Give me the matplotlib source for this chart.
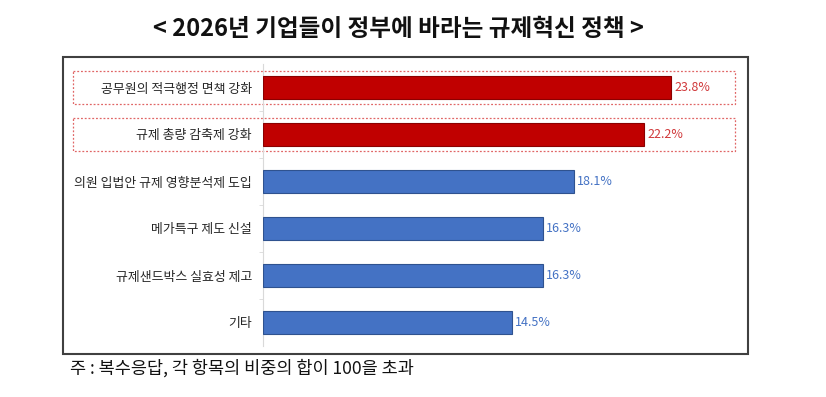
import matplotlib
matplotlib.use('Agg')
import matplotlib.pyplot as plt
import matplotlib.transforms as mtransforms
from matplotlib.patches import Rectangle

plt.rcParams['font.family'] = ['Noto Sans CJK KR', 'DejaVu Sans']

categories = ['공무원의 적극행정 면책 강화', '규제 총량 감축제 강화', '의원 입법안 규제 영향분석제 도입',
              '메가특구 제도 신설', '규제샌드박스 실효성 제고', '기타']
values = [23.8, 22.2, 18.1, 16.3, 16.3, 14.5]
highlight = [True, True, False, False, False, False]

title = '< 2026년 기업들이 정부에 바라는 규제혁신 정책 >'
note = '주 : 복수응답, 각 항목의 비중의 합이 100을 초과'

W, H = 826, 397
fig = plt.figure(figsize=(W / 100, H / 100), dpi=100)
ax = fig.add_axes([263 / W, 1 - 346 / H, (735 - 263) / W, (346 - 64) / H])

red, red_edge, red_text = '#C00000', '#8B0000', '#D0383A'
blue, blue_edge, blue_text = '#4472C4', '#2F528F', '#4472C4'

ypos = list(range(len(categories)))
colors = [red if h else blue for h in highlight]
edges = [red_edge if h else blue_edge for h in highlight]
ax.barh(ypos, values, height=0.47, color=colors, edgecolor=edges, linewidth=0.8, zorder=3)

ax.set_ylim(len(categories) - 0.5, -0.5)
ax.set_xlim(0, 27.5)

for y, v, h in zip(ypos, values, highlight):
    ax.text(v + 0.2, y, f'{v}%', va='center', ha='left', fontsize=9,
            color=red_text if h else blue_text)

ax.set_yticks(ypos)
ax.set_yticklabels(categories, fontsize=9.3, color='#262626')
ax.set_yticks([i + 0.5 for i in ypos[:-1]], minor=True)
ax.tick_params(axis='y', which='major', length=0, pad=8)
ax.tick_params(axis='y', which='minor', length=3, color='#d9d9d9')
ax.set_xticks([])
for s in ['top', 'right', 'bottom']:
    ax.spines[s].set_visible(False)
ax.spines['left'].set_color('#d9d9d9')
ax.spines['left'].set_linewidth(0.8)

# dashed highlight boxes around the top two items
trans = mtransforms.blended_transform_factory(fig.transFigure, ax.transData)
for y, h in zip(ypos, highlight):
    if h:
        ax.add_patch(Rectangle((73 / W, y - 0.355), (735 - 73) / W, 0.71, transform=trans,
                               fill=False, edgecolor='#E06666', linestyle=(0, (1.5, 1.5)),
                               linewidth=0.9, clip_on=False, zorder=2))

# outer frame
fig.patches.append(Rectangle((63 / W, 1 - 354 / H), (748 - 63) / W, (354 - 57) / H,
                             transform=fig.transFigure, fill=False,
                             edgecolor='#404040', linewidth=1.5))

fig.text(398 / W, 1 - 29 / H, title, ha='center', va='center', fontsize=17,
         fontweight='bold', color='#111111')
fig.text(70 / W, 1 - 368 / H, note, ha='left', va='center', fontsize=12.6, color='#111111')

fig.savefig('out.png', dpi=100)
